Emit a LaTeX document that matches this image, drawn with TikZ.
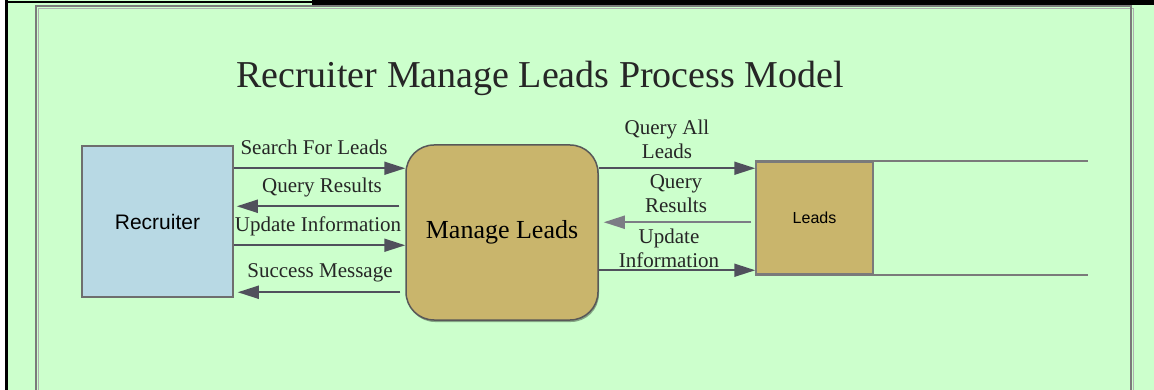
\documentclass[tikz,border=0pt]{standalone}
\usepackage{fontspec}
\setmainfont{Liberation Serif}
\setsansfont{Liberation Sans}
\usetikzlibrary{positioning, arrows.meta, calc, shadows}
\definecolor{pagegreen}{HTML}{CCFFCC}
\definecolor{actorblue}{HTML}{B8D9E4}
\definecolor{procgold}{HTML}{C9B56C}
\definecolor{edgegray}{HTML}{6E6E6E}
\definecolor{flowcol}{HTML}{50505C}
\definecolor{framegray}{HTML}{7A7A7A}
\tikzset{
  % external entity
  actor/.style={rectangle, fill=actorblue, draw=edgegray, line width=1.5pt,
                minimum width=151pt, minimum height=151pt, inner sep=0pt,
                font=\sffamily\fontsize{21}{24}\selectfont},
  % process = rounded box
  process/.style={rectangle, rounded corners=28pt, fill=procgold,
                  draw=edgegray!80!black, line width=1.5pt,
                  minimum width=192pt, minimum height=175pt, inner sep=0pt,
                  drop shadow={shadow xshift=1pt, shadow yshift=-2pt,
                               fill=black, opacity=0.35},
                  font=\fontsize{26}{30}\selectfont},
  % data store
  store/.style={rectangle, fill=procgold, draw=framegray, line width=1.5pt,
                minimum width=117pt, minimum height=112pt, inner sep=0pt,
                font=\sffamily\fontsize{16}{19}\selectfont},
  storeline/.style={draw=framegray, line width=1.5pt},
  % data flow
  flow/.style={draw=flowcol, line width=1.8pt,
               -{Triangle[length=21pt, width=13pt]}},
  lbl/.style={anchor=base, inner sep=0pt, align=center,
              font=\fontsize{21}{24}\selectfont, text=black!85},
}
\begin{document}
\begin{tikzpicture}[x=1pt, y=-1pt]
  \useasboundingbox (0,0) rectangle (1154,390);
  % page background and frame
  \fill[white] (0,0) rectangle (1154,390);
  \fill[pagegreen] (8,0) rectangle (1154,390);
  \fill[black] (5,0) rectangle (8,390);
  \fill[black] (5,1.5) rectangle (312,3.5);
  \fill[black] (312,0) rectangle (1154,5);
  \draw[framegray!60, line width=1pt] (38,392) -- (38,8.5) -- (1133,8.5) -- (1133,392);
  \draw[framegray, line width=2pt] (36,392) -- (36,6.5) -- (1131,6.5) -- (1131,392);

  \node[lbl, font=\fontsize{38}{42}\selectfont] (title) at (540,88)
    {Recruiter Manage Leads Process Model};

  \node[actor] (recruiter) at (157.5,221.5) {Recruiter};
  \node[process] (manage) at (502,232.5) {Manage Leads};
  \node[store] (leads) at (814.5,218) {Leads};
  \coordinate (storeend) at (1088,0);
  \draw[storeline] (leads.north west) -- (leads.north west -| storeend);
  \draw[storeline] (leads.south west) -- (leads.south west -| storeend);

  % recruiter <-> manage leads
  \path (recruiter.north east) ++(0,23) coordinate (search)
        (recruiter.north east) ++(0,61) coordinate (qres)
        (recruiter.north east) ++(0,100) coordinate (upd)
        (recruiter.north east) ++(0,147) coordinate (succ);
  \draw[flow] (search) -- (search -| manage.west);
  \draw[flow, shorten <=6pt, shorten >=3pt] (qres -| manage.west) -- (qres);
  \draw[flow] (upd) -- (upd -| manage.west);
  \draw[flow, shorten <=5pt, shorten >=4pt] (succ -| manage.west) -- (succ);
  \node[lbl] (searchlbl) at (314,155) {Search For Leads};
  \node[lbl] (qreslbl) at (322,193) {Query Results};
  \node[lbl] (updlbl) at (318,232) {Update Information};
  \node[lbl] (succlbl) at (320,277) {Success Message};

  % manage leads <-> leads store
  \path (manage.north east) ++(0,24) coordinate (qall)
        (manage.north east) ++(0,78) coordinate (qback)
        (manage.north east) ++(0,126) coordinate (updst);
  \draw[flow] (qall) -- (qall -| leads.west);
  \draw[flow, draw=flowcol!75, shorten <=4pt, shorten >=5pt] (qback -| leads.west) -- (qback);
  \draw[flow] (updst) -- (updst -| leads.west);
  \node[lbl] (qalllbl) at (667,159) {Query All\\Leads};
  \node[lbl] (qbacklbl) at (676,213) {Query\\Results};
  \node[lbl] (updstlbl) at (669,267) {Update\\Information};
\end{tikzpicture}
\end{document}
